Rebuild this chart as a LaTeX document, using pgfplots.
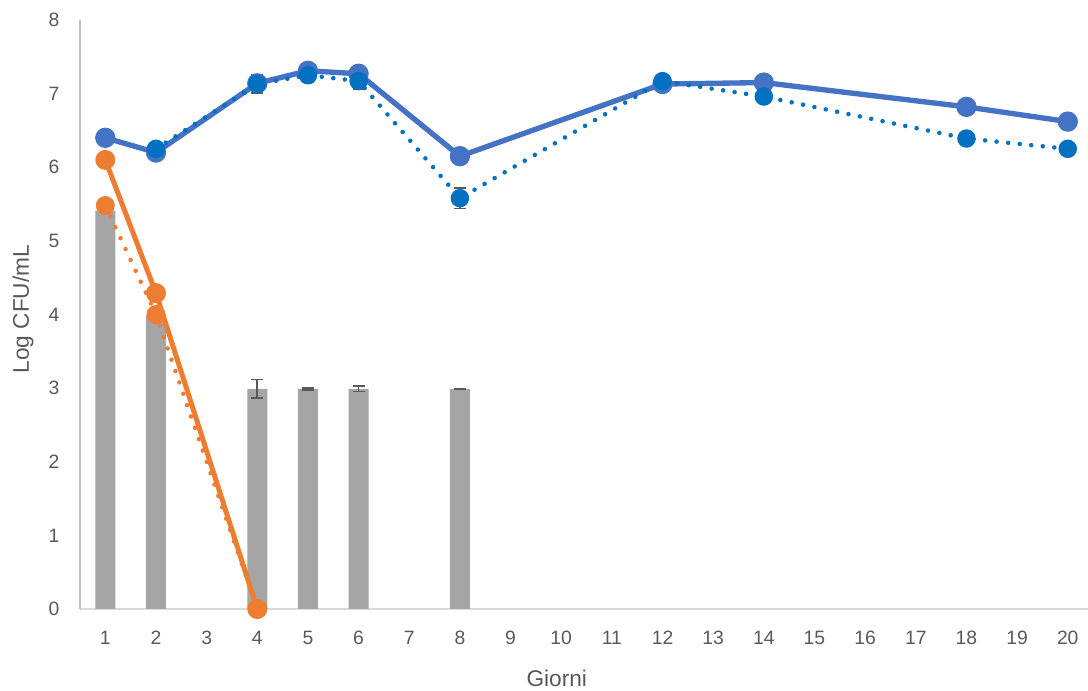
\documentclass[border=0pt]{standalone}
\usepackage{pgfplots}
\pgfplotsset{compat=1.18}
\usepackage{fontspec}
\setmainfont{Liberation Sans}
\definecolor{blueA}{HTML}{4472C4}
\definecolor{blueB}{HTML}{0070C0}
\definecolor{orangeA}{HTML}{ED7D31}
\definecolor{barg}{HTML}{A5A5A5}
\definecolor{errg}{HTML}{595959}
\definecolor{txtg}{HTML}{595959}
\definecolor{xline}{HTML}{D9D9D9}
\definecolor{yline}{HTML}{BFBFBF}
\begin{document}
\begin{tikzpicture}
\begin{axis}[
  name=ax,
  scale only axis, width=756pt, height=441.75pt,
  xmin=0.5, xmax=20.4, ymin=0, ymax=8,
  xtick={1,...,20}, ytick={0,...,8},
  axis lines=left, axis line style={-},
  x axis line style={draw=xline, line width=1pt},
  y axis line style={draw=yline, line width=1pt},
  major tick length=0pt,
  clip=false,
  /pgf/number format/assume math mode=true,
  tick label style={font=\fontsize{14.5}{17}\selectfont, text=txtg},
  yticklabel style={xshift=-12pt},
  xticklabel style={yshift=-13pt},
  xlabel={Giorni}, ylabel={Log CFU/mL},
  every axis x label/.style={at={(axis description cs:0.473,-0.117)}, anchor=center, font=\fontsize{17}{20}\selectfont, text=txtg},
  every axis y label/.style={at={(axis description cs:-0.0565,0.509)}, anchor=center, rotate=90, font=\fontsize{17}{20}\selectfont, text=txtg},
]
% bars
\addplot[ybar, bar width=15pt, fill=barg, draw=none,
  error bars/.cd, y dir=both, y explicit,
  error bar style={line width=1.2pt, draw=errg},
  error mark options={rotate=90, line width=1.2pt, draw=errg, mark size=4.5pt}]
  table[x=x, y=y, y error=e] {
x y e
1 5.41 0
2 3.98 0
4 2.99 0.127
5 2.99 0.012
6 2.99 0.036
8 2.99 0.006
};
% blue solid
\addplot[color=blueA, line width=4pt, mark=*, mark size=5.6pt, mark options={solid, fill=blueA}]
  coordinates {(1,6.40) (2,6.20) (4,7.14) (5,7.31) (6,7.27) (8,6.15) (12,7.13) (14,7.15) (18,6.82) (20,6.62)};
% blue dotted with error bars
\addplot[color=blueB, line width=3.4pt, dash pattern=on 0pt off 8.7pt, line cap=round,
  mark=*, mark size=5.2pt, mark options={solid, fill=blueB},
  error bars/.cd, y dir=both, y explicit,
  error bar style={solid, line cap=butt, line width=1.2pt, draw=errg},
  error mark options={rotate=90, solid, line width=1.2pt, draw=errg, mark size=4.5pt}]
  table[x=x, y=y, y error=e] {
x y e
2 6.25 0
4 7.13 0.12
5 7.25 0.10
6 7.17 0.11
8 5.58 0.14
12 7.17 0
14 6.96 0
18 6.39 0.06
20 6.25 0
};
% orange dotted
\addplot[color=orangeA, line width=3.4pt, dash pattern=on 0pt off 9pt, line cap=round,
  mark=*, mark size=5.4pt, mark options={solid, fill=orangeA}]
  coordinates {(1,5.48) (2,4.00) (4,0)};
% orange solid
\addplot[color=orangeA, line width=3.75pt, mark=*, mark size=5.6pt, mark options={solid, fill=orangeA}]
  coordinates {(1,6.10) (2,4.29) (4,0)};
\end{axis}
\pgfresetboundingbox
\path ([xshift=-60pt, yshift=-61.5pt]ax.south west) rectangle ([yshift=15pt]ax.north east);
\end{tikzpicture}
\end{document}
